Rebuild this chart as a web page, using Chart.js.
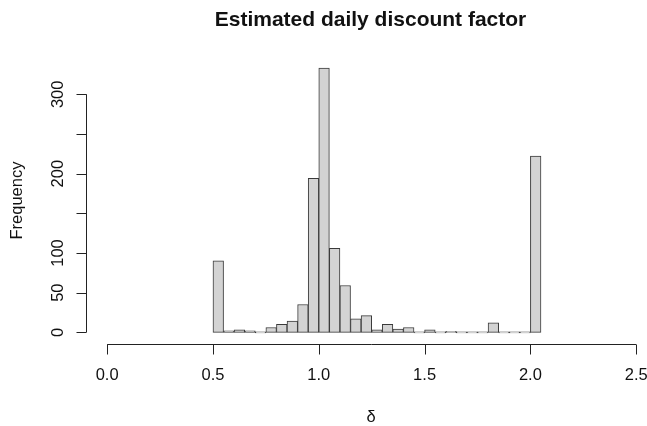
<!DOCTYPE html>
<html>
<head>
<meta charset="utf-8">
<script src="https://cdn.jsdelivr.net/npm/chart.js@4/dist/chart.umd.min.js"></script>
<style>
html,body{margin:0;padding:0;background:#fff;}
#wrap{width:647px;height:426px;position:relative;}
canvas{display:block;}
</style>
</head>
<body>
<div id="wrap"><canvas id="c" width="647" height="426"></canvas></div>
<script>
// ---- data ----
const binStarts = [0.50,0.55,0.60,0.65,0.70,0.75,0.80,0.85,0.90,0.95,
                   1.00,1.05,1.10,1.15,1.20,1.25,1.30,1.35,1.40,1.45,
                   1.50,1.55,1.60,1.65,1.70,1.75,1.80,1.85,1.90,1.95,2.00];
const binWidth = 0.05;
const counts = [90,2,3,2,0,6,10,14,35,194,
                333,106,59,17,21,3,10,4,6,0,
                3,0,1,0,0,0,12,0,0,0,222];
const xTicks = [0.0,0.5,1.0,1.5,2.0,2.5];
const xTickLabels = ["0.0","0.5","1.0","1.5","2.0","2.5"];
const yTicks = [0,50,100,200,300];
const yAxisTicks = [0,50,100,150,200,250,300];
const titleText = "Estimated daily discount factor";
const xTitle = "δ";
const yTitle = "Frequency";

const points = binStarts.map((b,i)=>({x: b + binWidth/2, y: counts[i]}));

const FONT = '"Liberation Sans", Arial, sans-serif';

const rAxes = {
  id: 'rAxes',
  afterDraw(chart){
    const ctx = chart.ctx;
    const xs = chart.scales.x, ys = chart.scales.y;
    const area = chart.chartArea;
    ctx.save();
    ctx.strokeStyle = '#222';
    ctx.fillStyle = '#111';
    ctx.lineWidth = 1;
    // x axis
    const xa = Math.round(area.bottom) + 0.5;
    const x0 = xs.getPixelForValue(xTicks[0]);
    const x1 = xs.getPixelForValue(xTicks[xTicks.length-1]);
    ctx.beginPath();
    ctx.moveTo(x0, xa); ctx.lineTo(x1, xa);
    xTicks.forEach(v=>{
      const px = Math.round(xs.getPixelForValue(v)) + 0.5;
      ctx.moveTo(px, xa); ctx.lineTo(px, xa + 10);
    });
    ctx.stroke();
    ctx.font = '16.5px ' + FONT;
    ctx.textAlign = 'center';
    ctx.textBaseline = 'alphabetic';
    xTicks.forEach((v,i)=>{
      ctx.fillText(xTickLabels[i], xs.getPixelForValue(v), 380);
    });
    // y axis
    const ya = Math.round(area.left) + 0.5;
    const yb = ys.getPixelForValue(yAxisTicks[0]);
    const yt = ys.getPixelForValue(yAxisTicks[yAxisTicks.length-1]);
    ctx.beginPath();
    ctx.moveTo(ya, yb); ctx.lineTo(ya, yt);
    yAxisTicks.forEach(v=>{
      const py = Math.round(ys.getPixelForValue(v)) + 0.5;
      ctx.moveTo(ya, py); ctx.lineTo(ya - 10, py);
    });
    ctx.stroke();
    yTicks.forEach(v=>{
      ctx.save();
      ctx.translate(63, ys.getPixelForValue(v));
      ctx.rotate(-Math.PI/2);
      ctx.textAlign = 'center';
      ctx.textBaseline = 'alphabetic';
      ctx.fillText(String(v), 0, 0);
      ctx.restore();
    });
    // axis titles
    ctx.save();
    ctx.translate(22, (area.top + area.bottom)/2);
    ctx.rotate(-Math.PI/2);
    ctx.textAlign = 'center';
    ctx.fillText(yTitle, 0, 0);
    ctx.restore();
    ctx.textAlign = 'center';
    ctx.fillText(xTitle, 371, 422);
    // main title
    ctx.font = 'bold 21px ' + FONT;
    ctx.fillText(titleText, 370.5, 26);
    ctx.restore();
  }
};

new Chart(document.getElementById('c'), {
  type: 'bar',
  data: {
    datasets: [{
      data: points,
      backgroundColor: '#d3d3d3',
      borderColor: '#3a3a3a',
      borderWidth: 1,
      borderSkipped: false,
      minBarLength: 1,
      barPercentage: 1,
      categoryPercentage: 1,
      grouped: false
    }]
  },
  options: {
    responsive: false,
    devicePixelRatio: 1,
    animation: false,
    layout: { padding: { left: 86, right: 0, top: 57, bottom: 82 } },
    plugins: { legend: { display: false }, tooltip: { enabled: false }, title: { display: false } },
    scales: {
      x: { type: 'linear', offset: false, min: -0.1, max: 2.551, display: false, grid: { offset: false } },
      y: { type: 'linear', min: -14.75, max: 347.03, display: false }
    }
  },
  plugins: [rAxes]
});
</script>
</body>
</html>
